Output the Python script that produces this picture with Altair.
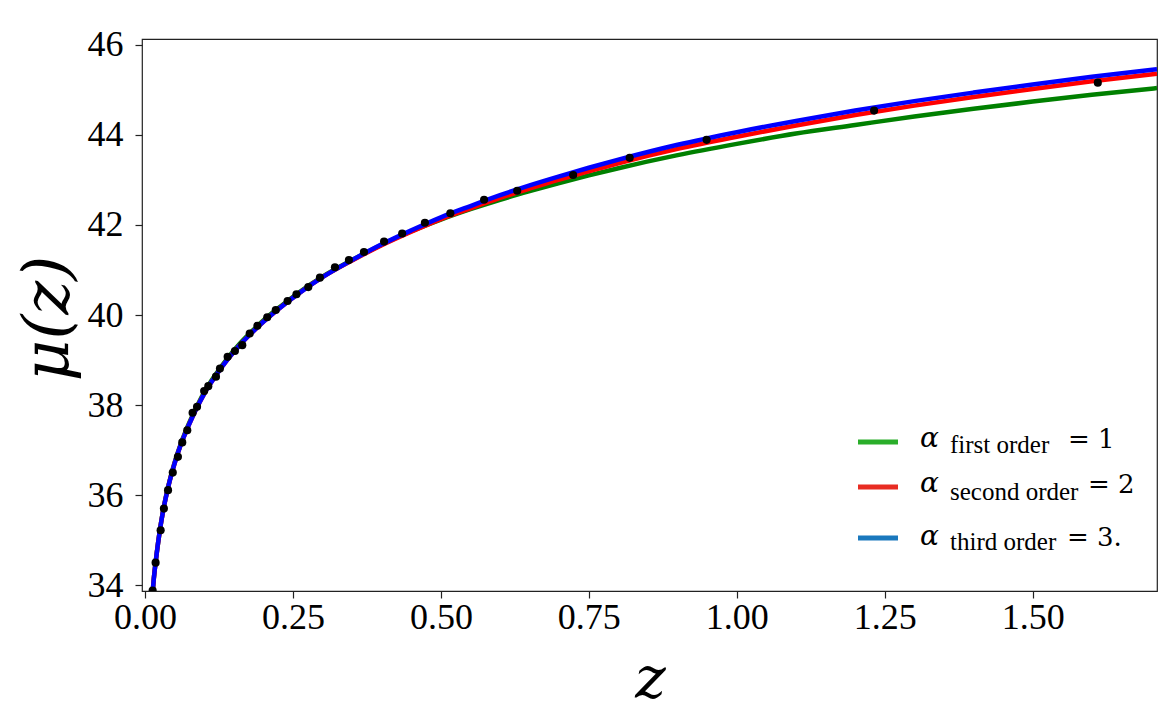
import altair as alt
import pandas as pd

# ---- data ----
z_points = [0.013, 0.018, 0.0265, 0.032, 0.039, 0.047, 0.0557, 0.063, 0.0715, 0.0805,
            0.088, 0.100, 0.107, 0.120, 0.1267, 0.1397, 0.152, 0.1644, 0.177, 0.190,
            0.2066, 0.221, 0.241, 0.256, 0.276, 0.2956, 0.321, 0.3446, 0.370, 0.404,
            0.4346, 0.473, 0.516, 0.573, 0.629, 0.7235, 0.819, 0.949, 1.232, 1.610]
mu_points = [33.88, 34.50, 35.22, 35.70, 36.11, 36.50, 36.85, 37.17, 37.44, 37.83,
             37.96, 38.31, 38.42, 38.63, 38.81, 39.07, 39.20, 39.33, 39.59, 39.76,
             39.95, 40.11, 40.31, 40.46, 40.62, 40.83, 41.06, 41.22, 41.40, 41.63,
             41.81, 42.05, 42.26, 42.56, 42.76, 43.11, 43.49, 43.89, 44.54, 45.16]

z_curve = [0.011, 0.015, 0.02, 0.025, 0.03, 0.04, 0.05, 0.06, 0.07, 0.08, 0.09, 0.10,
           0.12, 0.14, 0.16, 0.18, 0.20, 0.23, 0.26, 0.30, 0.35, 0.40, 0.45, 0.50,
           0.55, 0.60, 0.65, 0.70, 0.75, 0.80, 0.90, 1.00, 1.10, 1.20, 1.30, 1.40,
           1.50, 1.60, 1.71]
mu_first = [33.55, 34.15, 34.72, 35.20, 35.61, 36.23, 36.72, 37.12, 37.46, 37.76, 38.03, 38.28,
            38.69, 39.05, 39.36, 39.63, 39.88, 40.20, 40.50, 40.85, 41.22, 41.56, 41.86, 42.12,
            42.35, 42.56, 42.75, 42.93, 43.10, 43.26, 43.55, 43.80, 44.03, 44.22, 44.41, 44.58,
            44.74, 44.89, 45.04]
mu_second = [33.55, 34.15, 34.72, 35.20, 35.60, 36.22, 36.70, 37.10, 37.43, 37.73, 38.00, 38.25,
             38.66, 39.02, 39.33, 39.60, 39.85, 40.18, 40.48, 40.84, 41.21, 41.55, 41.85, 42.13,
             42.37, 42.60, 42.81, 43.01, 43.19, 43.37, 43.69, 43.96, 44.21, 44.44, 44.65, 44.84,
             45.02, 45.19, 45.36]
mu_third = [33.55, 34.15, 34.72, 35.20, 35.60, 36.22, 36.70, 37.10, 37.43, 37.73, 38.00, 38.25,
            38.66, 39.02, 39.33, 39.60, 39.85, 40.18, 40.48, 40.84, 41.22, 41.57, 41.88, 42.17,
            42.42, 42.66, 42.88, 43.08, 43.27, 43.45, 43.78, 44.06, 44.31, 44.54, 44.75, 44.94,
            45.12, 45.29, 45.46]

x_ticks = [0.0, 0.25, 0.5, 0.75, 1.0, 1.25, 1.5]
y_ticks = [34, 36, 38, 40, 42, 44, 46]

legend_subs = ["first order", "second order", "third order"]
legend_vals = ["= 1", "= 2", "= 3."]

# ---- layout / style ----
W, H = 1015, 552
FRAME = "#222222"
line_colors = ["#008000", "#ff0000", "#0000ff"]
legend_colors = ["#2aae2a", "#e82c22", "#1a78bd"]

xs = alt.Scale(domain=[-0.005, 1.71], nice=False, zero=False)
ys = alt.Scale(domain=[33.87, 46.13], nice=False, zero=False)

x_axis = alt.Axis(values=x_ticks, format=".2f", title="z", grid=False, domain=False,
                  tickSize=7, tickWidth=1.2, tickColor=FRAME,
                  labelFont="Liberation Serif", labelFontSize=36, labelColor="black",
                  labelPadding=2, labelFlush=False,
                  titleFont="DejaVu Serif", titleFontStyle="italic", titleFontWeight="normal",
                  titleFontSize=58, titleColor="black", titleX=508, titleY=106,
                  titleBaseline="alphabetic", titleAlign="center")
y_axis = alt.Axis(values=y_ticks, format="d", title="μ(z)", grid=False, domain=False,
                  tickSize=7, tickWidth=1.2, tickColor=FRAME,
                  labelFont="Liberation Serif", labelFontSize=36, labelColor="black",
                  labelPadding=12, labelFlush=False,
                  titleFont="DejaVu Serif", titleFontStyle="italic", titleFontWeight="normal",
                  titleFontSize=64, titleColor="black", titleX=-94, titleY=279,
                  titleBaseline="middle", titleAlign="center", titleAngle=270)

df_pts = pd.DataFrame({"z": z_points, "mu": mu_points})

layers = []
for i, mu in enumerate([mu_first, mu_second, mu_third]):
    d = pd.DataFrame({"z": z_curve, "mu": mu})
    layers.append(alt.Chart(d).mark_line(color=line_colors[i], strokeWidth=4.5,
                                         interpolate="monotone", clip=True).encode(
        x=alt.X("z:Q", scale=xs, axis=x_axis),
        y=alt.Y("mu:Q", scale=ys, axis=y_axis),
        order="z:Q"))

layers.append(alt.Chart(df_pts).mark_circle(color="black", opacity=1, size=66, clip=True)
              .encode(x=alt.X("z:Q", scale=xs, axis=x_axis),
                      y=alt.Y("mu:Q", scale=ys, axis=y_axis)))

# ---- legend (drawn as annotation) ----
one = pd.DataFrame({"k": [0]})
line_y = [403, 448, 499]
alpha_y = [408, 453, 506]
sub_y = [414, 461, 511]
val_y = [409, 454, 507]
val_x = [926, 946, 925]
for i in range(3):
    layers.append(alt.Chart(one).mark_rule(color=legend_colors[i], strokeWidth=5).encode(
        x=alt.value(716), x2=alt.value(756), y=alt.value(line_y[i])))
    layers.append(alt.Chart(one).mark_text(text="α", font="DejaVu Serif", fontStyle="italic",
                                           fontSize=28, align="left", baseline="alphabetic",
                                           color="black").encode(
        x=alt.value(778), y=alt.value(alpha_y[i])))
    layers.append(alt.Chart(one).mark_text(text=legend_subs[i], font="Liberation Serif",
                                           fontSize=25, align="left", baseline="alphabetic",
                                           color="black").encode(
        x=alt.value(808), y=alt.value(sub_y[i])))
    layers.append(alt.Chart(one).mark_text(text=legend_vals[i], font="DejaVu Serif",
                                           fontSize=26, align="left", baseline="alphabetic",
                                           color="black").encode(
        x=alt.value(val_x[i]), y=alt.value(val_y[i])))

chart = alt.layer(*layers).properties(
    width=W, height=H,
    background="white",
    autosize=alt.AutoSizeParams(type="none"),
    padding={"left": 134, "top": 31, "right": 9, "bottom": 122},
).configure_view(stroke=FRAME, strokeWidth=1.2)

chart.save("out.html", embed_options={"renderer": "svg", "actions": False})
